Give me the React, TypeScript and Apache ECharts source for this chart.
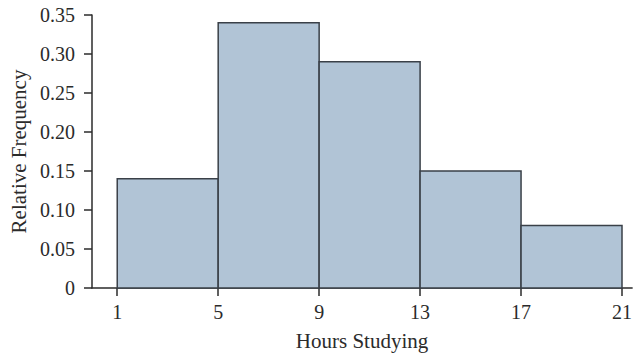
import React, { useEffect, useRef } from "react";
import * as echarts from "echarts";

const binStarts = [1, 5, 9, 13, 17];
const binEnds = [5, 9, 13, 17, 21];
const relFreq = [0.14, 0.34, 0.29, 0.15, 0.08];
const xTicks = [1, 5, 9, 13, 17, 21];
const xTitle = "Hours Studying";
const yTitle = "Relative Frequency";

const FONT = "'Liberation Serif', 'Times New Roman', serif";
const INK = "#2b2b2b";

export default function App() {
  const ref = useRef<HTMLDivElement>(null);
  useEffect(() => {
    if (!ref.current) return;
    const chart = echarts.init(ref.current, undefined, { renderer: "svg" });
    const data = binStarts.map((s, i) => [s, binEnds[i], relFreq[i]]);
    chart.setOption({
      animation: false,
      backgroundColor: "#ffffff",
      grid: { left: 92, right: 0, top: 15, bottom: 67, containLabel: false },
      xAxis: {
        type: "value",
        min: 0,
        max: 21.4,
        name: xTitle,
        nameLocation: "middle",
        nameGap: 42,
        nameTextStyle: { fontFamily: FONT, fontSize: 21, color: INK },
        axisLine: { show: true, onZero: false, lineStyle: { color: INK, width: 1.5 } },
        axisTick: { show: true, inside: false, length: 8, customValues: xTicks, lineStyle: { color: INK, width: 1.5 } },
        axisLabel: { customValues: xTicks, fontFamily: FONT, fontSize: 20, color: INK, margin: 14 },
        splitLine: { show: false },
      },
      yAxis: {
        type: "value",
        min: 0,
        max: 0.35,
        interval: 0.05,
        name: yTitle,
        nameLocation: "middle",
        nameGap: 63,
        nameTextStyle: { fontFamily: FONT, fontSize: 21, color: INK },
        axisLine: { show: true, lineStyle: { color: INK, width: 1.5 } },
        axisTick: { show: true, inside: false, length: 8, lineStyle: { color: INK, width: 1.5 } },
        axisLabel: {
          fontFamily: FONT,
          fontSize: 20,
          color: INK,
          margin: 17,
          formatter: (v: number) => (Math.abs(v) < 1e-9 ? "0" : v.toFixed(2)),
        },
        splitLine: { show: false },
      },
      series: [
        {
          type: "custom",
          data,
          encode: { x: [0, 1], y: 2 },
          renderItem: (params: any, api: any) => {
            const p0 = api.coord([api.value(0), 0]);
            const p1 = api.coord([api.value(1), api.value(2)]);
            return {
              type: "rect",
              shape: { x: p0[0], y: p1[1], width: p1[0] - p0[0], height: p0[1] - p1[1] },
              style: { fill: "#b1c4d6", stroke: "#3a4048", lineWidth: 1.5 },
            };
          },
        },
      ],
    });
    return () => chart.dispose();
  }, []);
  return (
    <div
      ref={ref}
      style={{ position: "fixed", left: 0, top: 0, width: 635, height: 356 }}
    />
  );
}
